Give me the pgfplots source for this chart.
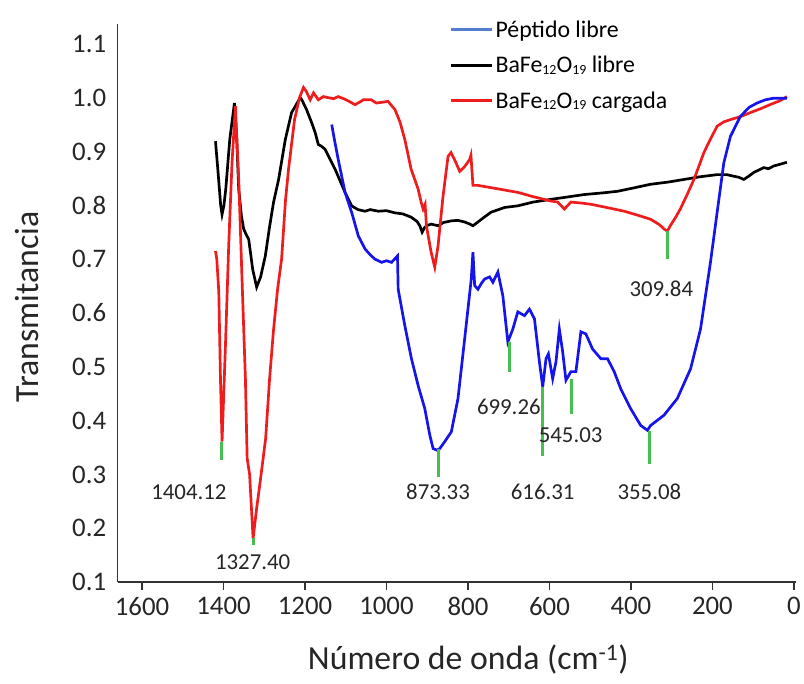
\documentclass[border=0pt]{standalone}
\usepackage{fontspec}
\setmainfont{Carlito}
\usepackage{pgfplots}
\pgfplotsset{compat=1.18}

\definecolor{irblue}{RGB}{20,20,235}
\definecolor{irred}{RGB}{238,28,28}
\definecolor{irgreen}{RGB}{70,190,80}
\definecolor{legblue}{RGB}{85,125,205}

% small subscript digits as in the formula BaFe12O19
\newcommand{\sub}[1]{\raisebox{-1.5bp}{\fontsize{14}{14}\selectfont #1}}

\begin{document}
\begin{tikzpicture}
\begin{axis}[
  at={(0,0)}, anchor=south west,
  scale only axis, width=680.6bp, height=560bp,
  x dir=reverse, xmin=-5, xmax=1660, ymin=0.1, ymax=1.137,
  axis x line=bottom, axis y line=left,
  axis line style={-, line width=1.3bp, black!80},
  xtick={0,200,...,1600}, ytick={0.1,0.2,...,1.1},
  xtick pos=bottom, tick align=outside, major tick length=8bp,
  x tick style={line width=1.3bp, black!80},
  y tick style={draw=none},
  /pgf/number format/assume math mode=true,
  tick label style={font=\fontsize{27}{32}\selectfont, text=black!85},
  xticklabel style={/pgf/number format/set thousands separator={}, yshift=-4bp},
  yticklabel style={/pgf/number format/.cd, fixed, fixed zerofill, precision=1},
  xlabel={Número de onda (cm\textsuperscript{-1})},
  ylabel={Transmitancia},
  xlabel style={at={(axis description cs:0.517,-0.138)}, anchor=center,
    font=\fontsize{34}{40}\selectfont, text=black!85},
  ylabel style={at={(axis description cs:-0.134,0.493)}, rotate=0, anchor=center,
    font=\fontsize{34}{40}\selectfont, text=black!85},
  legend style={draw=none, fill=none, at={(axis description cs:0.485,1.013)}, anchor=north west,
    font=\fontsize{24}{29}\selectfont, row sep=13.5bp,
    /tikz/every even column/.append style={column sep=20bp}},
  legend image code/.code={\draw[line width=3bp] (0bp,0bp) -- (41bp,0bp);},
  legend cell align=left,
]
\addlegendimage{legblue}
\addlegendentry{Péptido libre}
\addlegendimage{black}
\addlegendentry{BaFe\sub{12}O\sub{19} libre}
\addlegendimage{irred}
\addlegendentry{BaFe\sub{12}O\sub{19} cargada}

% BaFe12O19 libre
\addplot[black, line width=2.7bp, forget plot] coordinates {
(1419.7,0.919)(1414,0.867)(1407,0.80)(1403.6,0.783)(1399,0.80)(1394.5,0.830)(1384.7,0.922)(1373.2,0.990)
(1368,0.93)(1362.7,0.830)(1356,0.78)(1350.5,0.756)(1344,0.745)(1338.2,0.737)(1328.4,0.681)(1318.7,0.648)
(1308.9,0.667)(1297.4,0.706)(1287,0.76)(1277.1,0.806)(1264.8,0.848)(1248.4,0.922)(1233,0.972)
(1211.8,1.0)(1207.8,0.996)(1196.3,0.978)(1183.4,0.953)(1175,0.935)(1167.3,0.913)(1160,0.910)(1150.6,0.904)
(1126.1,0.867)(1101.7,0.824)(1085.5,0.799)(1070,0.792)(1052.7,0.789)(1040,0.792)(1020.2,0.789)
(1000,0.790)(979.3,0.786)(960,0.784)(939.5,0.778)(925,0.770)(918.2,0.762)(912.5,0.750)(907,0.758)
(902,0.762)(890,0.765)(873.4,0.762)(860,0.768)(841.6,0.771)(825,0.772)(808.1,0.769)(795,0.765)(787.8,0.762)
(775.5,0.769)(760,0.778)(743.7,0.787)(710,0.796)(677.7,0.799)(640,0.806)(596.9,0.811)(560,0.815)
(514.5,0.820)(470,0.823)(433,0.826)(395,0.832)(352.3,0.839)(310,0.843)(269.9,0.848)(230,0.853)
(188.4,0.857)(165,0.857)(147.5,0.854)(135,0.852)(123.1,0.848)(110.8,0.854)(98.6,0.861)(85,0.866)
(74.1,0.870)(62,0.868)(49.7,0.873)(35,0.876)(17.1,0.880)
};

% BaFe12O19 cargada
\addplot[irred, line width=2.7bp, forget plot] coordinates {
(1419.7,0.715)(1416.5,0.700)(1411.6,0.639)(1407.5,0.478)(1403.6,0.361)(1395.3,0.539)(1387.3,0.725)
(1379.1,0.880)(1370.8,0.984)(1362.7,0.848)(1354.6,0.663)(1346.3,0.478)(1342,0.330)(1336,0.300)
(1327.4,0.181)(1318.7,0.237)(1308.9,0.293)(1296.6,0.367)(1286.9,0.478)(1277.1,0.570)(1267.3,0.644)
(1257.5,0.700)(1247.7,0.811)(1240.4,0.867)(1225.7,0.959)(1213.5,1.0)(1203.7,1.019)(1196.3,1.011)
(1187.3,0.996)(1179.1,1.009)(1167.3,0.996)(1155,1.002)(1142.9,1.0)(1130,0.998)(1118.4,1.002)
(1105,0.998)(1094,0.994)(1077.2,0.987)(1065,0.992)(1056.9,0.996)(1037.3,0.996)(1025,0.990)
(1015.3,0.991)(996.2,0.993)(979.3,0.978)(967,0.955)(954.9,0.922)(939.5,0.867)(922.3,0.830)(915,0.806)
(910.1,0.793)(905.2,0.802)(902,0.762)(890.5,0.713)(881.5,0.685)(873.4,0.725)(861.2,0.817)(848.9,0.891)
(841.6,0.898)(830,0.880)(820.3,0.863)(808.1,0.872)(795.9,0.885)(792.7,0.893)(787.8,0.837)(775.5,0.837)
(730,0.831)(677.7,0.824)(640,0.816)(596.9,0.808)(579.8,0.806)(563.4,0.793)(547.3,0.806)(520,0.804)
(499.1,0.802)(460,0.796)(416.6,0.789)(385,0.782)(351.6,0.774)(330,0.764)(318.8,0.756)(310.7,0.752)
(303.4,0.762)(290,0.778)(278.9,0.793)(262,0.820)(245.4,0.848)(233,0.873)(220.9,0.898)(205.5,0.922)
(188.4,0.947)(172,0.955)(156.6,0.959)(130,0.965)(107.6,0.972)(80,0.980)(58.7,0.987)(35,0.994)(17.1,1.002)
};

% Peptido libre
\addplot[irblue, line width=2.7bp, forget plot] coordinates {
(1134.4,0.950)(1127.8,0.922)(1118.4,0.885)(1101.7,0.824)(1085.5,0.787)(1069.1,0.743)(1052.7,0.719)
(1040,0.708)(1028.3,0.700)(1012.1,0.694)(1000,0.697)(987.6,0.694)(973,0.706)(971.3,0.644)(954.9,0.576)
(938.7,0.515)(922.3,0.465)(905.9,0.422)(893.7,0.373)(885.6,0.348)(876,0.345)(869.2,0.348)(857,0.361)
(840.9,0.379)(824.5,0.441)(808.1,0.552)(791.9,0.663)(787.8,0.713)(783.6,0.651)(775.5,0.644)(767,0.655)
(759.1,0.663)(746.9,0.667)(738.8,0.657)(726.6,0.676)(714.4,0.632)(702.1,0.546)(689.9,0.570)(677.7,0.602)
(661.3,0.595)(649.1,0.607)(636.8,0.589)(624.6,0.509)(616.5,0.463)(608.4,0.515)(602.6,0.524)(592.1,0.478)
(584,0.509)(575.7,0.570)(567.6,0.528)(559.5,0.475)(547.3,0.491)(535,0.491)(522.8,0.565)(510.6,0.561)
(494.2,0.533)(473.9,0.515)(457.5,0.515)(441.1,0.491)(425,0.459)(400.5,0.422)(376,0.391)(359.6,0.382)
(351.6,0.391)(318.8,0.410)(286.2,0.441)(253.7,0.496)(229.2,0.570)(204.8,0.694)(188.4,0.787)(172,0.879)
(155.8,0.928)(131.4,0.965)(110,0.982)(90.5,0.990)(70,0.996)(49.7,0.999)(17.1,0.999)
};

% peak markers
\addplot[irgreen, line width=3bp, forget plot] coordinates {(1404.12,0.361)(1404.12,0.326)};
\addplot[irgreen, line width=3bp, forget plot] coordinates {(1327.40,0.181)(1327.40,0.168)};
\addplot[irgreen, line width=3bp, forget plot] coordinates {(873.33,0.348)(873.33,0.296)};
\addplot[irgreen, line width=3bp, forget plot] coordinates {(699.26,0.546)(699.26,0.491)};
\addplot[irgreen, line width=3bp, forget plot] coordinates {(616.31,0.463)(616.31,0.335)};
\addplot[irgreen, line width=3bp, forget plot] coordinates {(545.03,0.478)(545.03,0.413)};
\addplot[irgreen, line width=3bp, forget plot] coordinates {(355.08,0.381)(355.08,0.320)};
\addplot[irgreen, line width=3bp, forget plot] coordinates {(309.84,0.752)(309.84,0.700)};

\begin{scope}[every node/.style={font=\fontsize{23}{27}\selectfont, text=black!85}]
\node at (axis cs:1485,0.267) {1404.12};
\node at (axis cs:1328.5,0.137) {1327.40};
\node at (axis cs:873.4,0.267) {873.33};
\node at (axis cs:699.7,0.426) {699.26};
\node at (axis cs:616.5,0.267) {616.31};
\node at (axis cs:548,0.372) {545.03};
\node at (axis cs:354.7,0.267) {355.08};
\node at (axis cs:325.4,0.644) {309.84};
\end{scope}
\end{axis}
\path (-118bp,-102bp) rectangle (686bp,584bp);
\end{tikzpicture}
\end{document}
